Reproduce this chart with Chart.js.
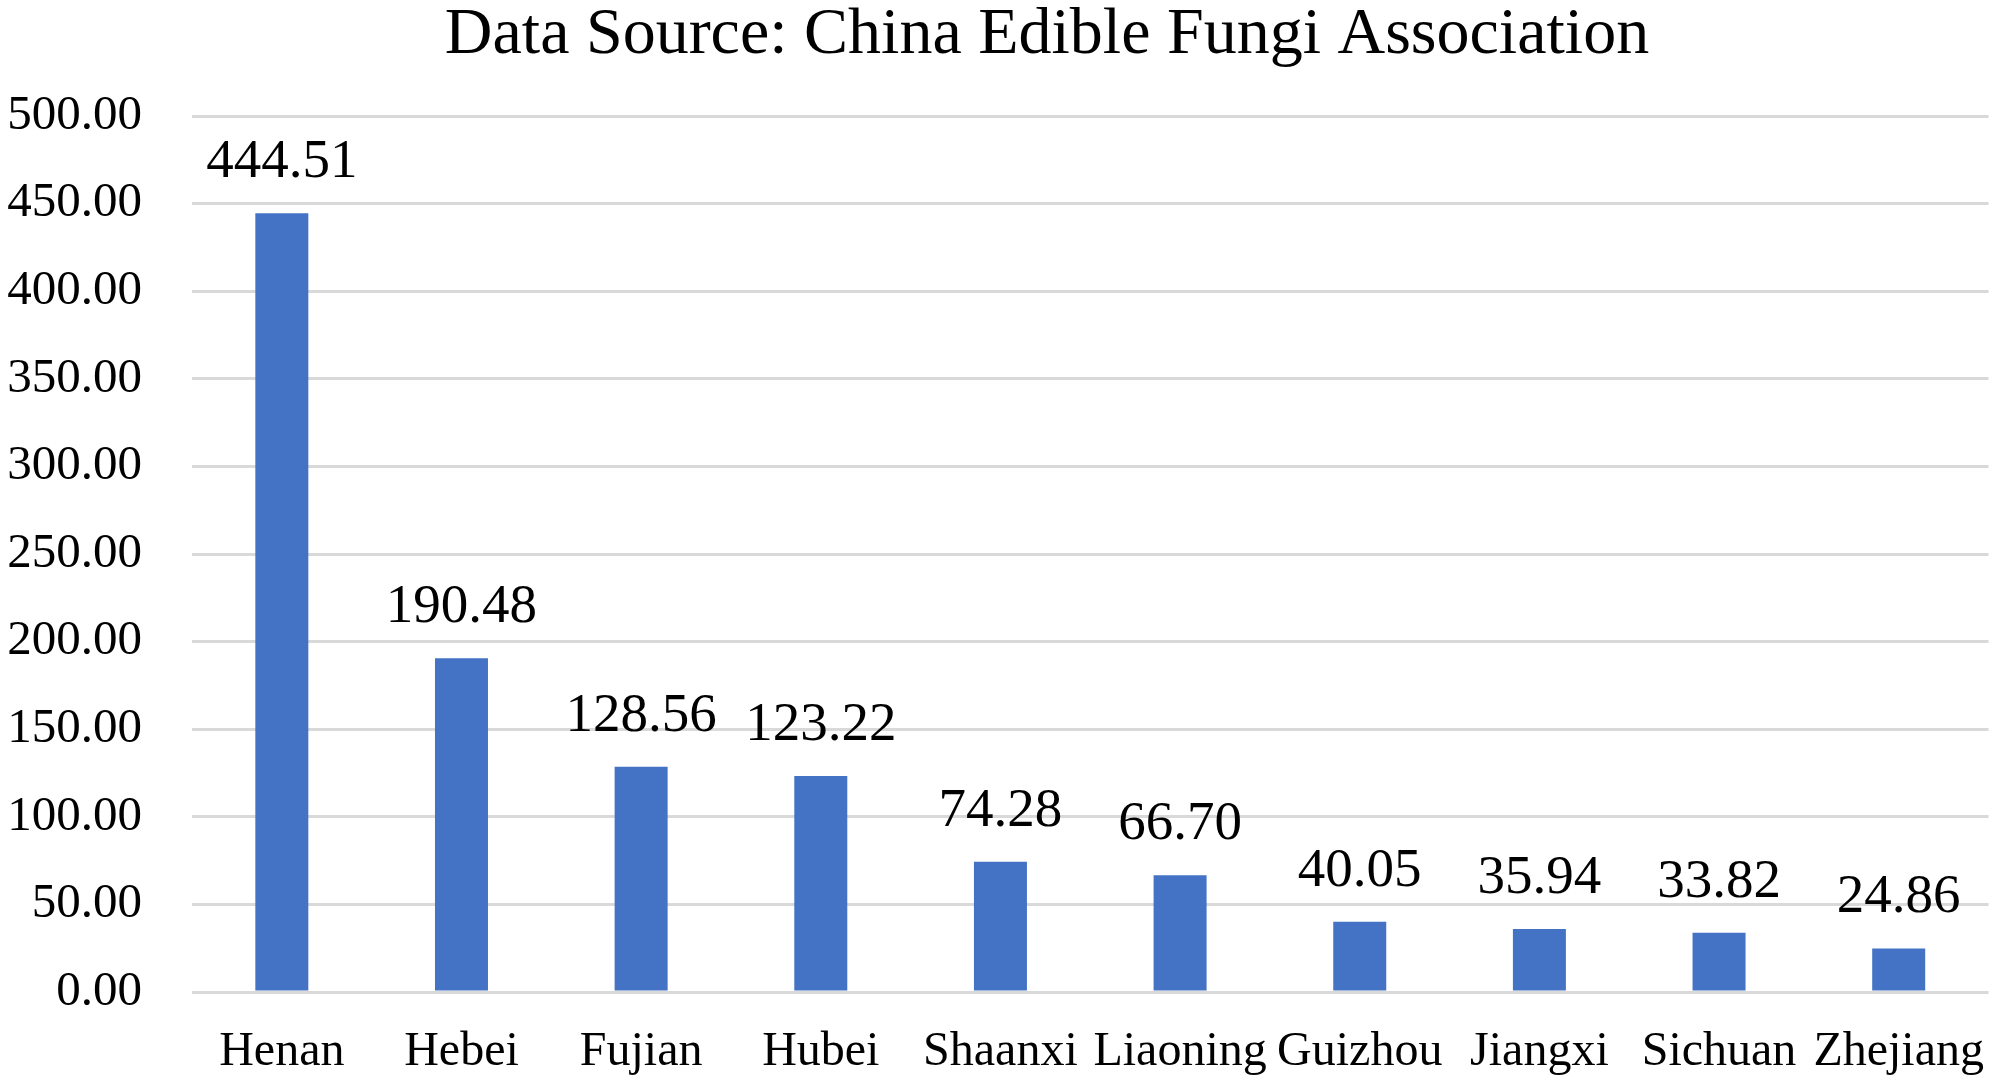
<!DOCTYPE html>
<html>
<head>
<meta charset="utf-8">
<script src="https://cdn.jsdelivr.net/npm/chart.js@4.4.1/dist/chart.umd.min.js"></script>
<style>
  html, body { margin: 0; padding: 0; background: #fff; }
  #wrap { width: 2008px; height: 1082px; }
</style>
</head>
<body>
<div id="wrap"><canvas id="myChart"></canvas></div>
<script>
const provinces = ['Henan', 'Hebei', 'Fujian', 'Hubei', 'Shaanxi', 'Liaoning', 'Guizhou', 'Jiangxi', 'Sichuan', 'Zhejiang'];
const output = [444.51, 190.48, 128.56, 123.22, 74.28, 66.70, 40.05, 35.94, 33.82, 24.86];
const yMin = 0;
const yMax = 500;
const yStep = 50;
const chartTitle = 'Data Source: China Edible Fungi Association';

// value labels above each bar, title a bit left of the plot centre
const barLabels = {
    id: 'barLabels',
    afterDatasetsDraw(chart) {
        const ctx = chart.ctx;
        const meta = chart.getDatasetMeta(0);
        ctx.save();
        ctx.font = '55px "Liberation Serif"';
        ctx.fillStyle = '#000';
        ctx.textAlign = 'center';
        ctx.textBaseline = 'bottom';
        meta.data.forEach((bar, i) => {
            ctx.fillText(output[i].toFixed(2), bar.x, bar.y - 23);
        });
        ctx.font = '66px "Liberation Serif"';
        ctx.textBaseline = 'middle';
        ctx.fillText(chartTitle, 1047, 36);
        ctx.restore();
    }
};

let ctx = document.getElementById('myChart').getContext('2d');
let myChart = new Chart(ctx, {
    type: 'bar',
    data: {
        labels: provinces,
        datasets: [{
            data: output,
            backgroundColor: '#4472C4',
            categoryPercentage: 1,
            barPercentage: 0.295
        }]
    },
    plugins: [barLabels],
    options: {
        responsive: true,
        maintainAspectRatio: false,
        animation: false,
        devicePixelRatio: 1,
        layout: { padding: { top: 116, right: 0, bottom: 0, left: 0 } },
        plugins: {
            legend: { display: false },
            tooltip: { enabled: false },
            title: { display: false }
        },
        scales: {
            x: {
                grid: { display: false },
                border: { display: false },
                afterFit: (scale) => { scale.height = 90; },
                ticks: {
                    color: '#000',
                    font: { family: 'Liberation Serif', size: 48 },
                    padding: 24,
                    maxRotation: 0,
                    autoSkip: false
                }
            },
            y: {
                min: yMin,
                max: yMax,
                grid: { color: '#d9d9d9', lineWidth: 3, drawTicks: false },
                border: { display: false },
                afterFit: (scale) => { scale.width = 192; },
                ticks: {
                    stepSize: yStep,
                    color: '#000',
                    font: { family: 'Liberation Serif', size: 49 },
                    padding: 50,
                    callback: (v) => v.toFixed(2)
                }
            }
        }
    }
});
</script>
</body>
</html>
